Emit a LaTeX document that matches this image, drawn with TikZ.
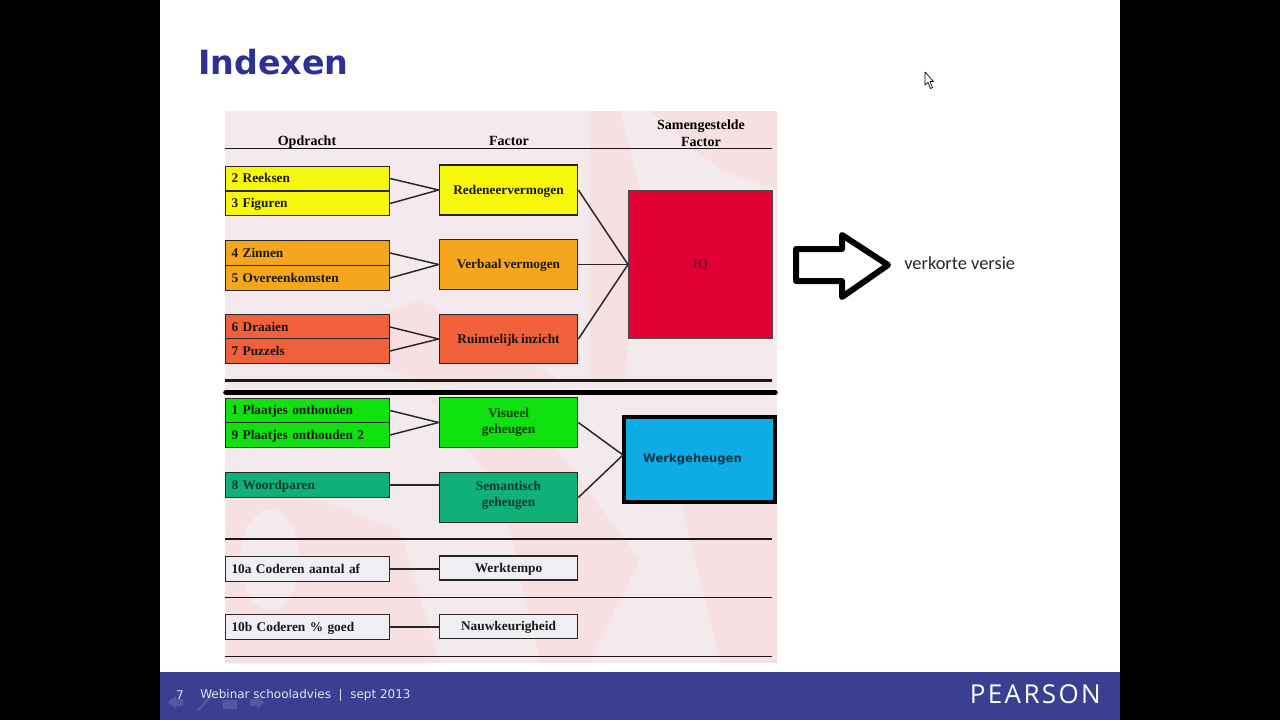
\documentclass[tikz,border=0pt]{standalone}
\usepackage{fontspec}
\setmainfont{Liberation Serif}
\newfontfamily\titlefont{DejaVu Sans}
\newfontfamily\notefont{Carlito}
\newfontfamily\brandfont[LetterSpace=9]{Open Sans}
\newcommand\boxfont{\fontsize{10}{12}\selectfont\bfseries\spaceskip 0.17em\relax}
\definecolor{panelbg}{RGB}{244,234,237}
\definecolor{panelmark}{RGB}{247,224,226}
\definecolor{barblue}{RGB}{58,63,145}
\definecolor{titleblue}{RGB}{46,49,146}
\definecolor{cyellow}{RGB}{247,247,12}
\definecolor{corange}{RGB}{245,166,28}
\definecolor{cred}{RGB}{240,96,58}
\definecolor{cgreen}{RGB}{16,226,16}
\definecolor{cteal}{RGB}{16,176,120}
\definecolor{cwhite}{RGB}{240,238,242}
\definecolor{ciq}{RGB}{224,0,52}
\definecolor{cwerk}{RGB}{14,172,228}
\tikzset{
  opdrbox/.style={draw=black!85,line width=0.8pt,anchor=west,minimum width=123pt,minimum height=18.4pt,
    inner xsep=4.5pt,inner ysep=0pt,text width=114pt,align=left,text height=7pt,text depth=0.4pt,
    font=\boxfont,text=black!90},
  factorbox/.style={draw=black!85,line width=0.8pt,minimum width=104pt,inner sep=0pt,align=center,
    font=\boxfont,text=black!90},
  oneline/.style={text height=7pt,text depth=0.4pt},
  headlabel/.style={inner sep=0pt,align=center,font=\fontsize{10.5}{12.6}\selectfont\bfseries},
  conn/.style={line width=1.1pt,draw=black!85},
  rule/.style={line width=1.4pt,draw=black!90}
}
\begin{document}
\begin{tikzpicture}[x=0.75pt,y=0.75pt,yscale=-1,xscale=1]
\useasboundingbox (0,0) rectangle (1280,720);
\fill [black] (0,0) rectangle (1280,720);
\fill [white] (160,0) rectangle (1120,672);
\fill [barblue] (160,672) rectangle (1120,720);
\fill [panelbg] (225,111) rectangle (777,663);
\begin{scope}
\clip (225,111) rectangle (777,663);
\fill [panelmark] (590,111) -- (620,111) -- (640,190) -- (625,380) -- (590,380) -- cycle;
\fill [panelmark] (650,111) -- (777,111) -- (777,190) -- (720,170) -- cycle;
\fill [panelmark] (300,340) -- (420,300) -- (560,380) -- (430,385) -- cycle;
\fill [panelmark] (225,500) .. controls (300,480) and (340,510) .. (400,530) -- (440,663) -- (225,663) -- cycle;
\fill [panelbg] (270,560) ellipse (30 and 50);
\fill [panelmark] (430,400) -- (520,400) -- (640,560) -- (590,663) -- (540,663) -- (500,490) -- cycle;
\fill [panelmark] (680,500) -- (777,500) -- (777,663) -- (720,663) -- cycle;
\fill [panelmark] (225,625) -- (420,640) -- (430,663) -- (225,663) -- cycle;
\end{scope}
\node [inner sep=0pt,anchor=west,text=titleblue,font=\titlefont\bfseries\fontsize{25}{28}\selectfont] (title) at (198,62) {Indexen};
\node [headlabel,oneline] (hopdracht) at (307,141) {Opdracht};
\node [headlabel,oneline] (hfactor) at (509,141) {Factor};
\node [headlabel,anchor=south] (hsamen) at (701,147) {Samengestelde\\Factor};
\coordinate (r0a) at (225,148.5);
\coordinate (r0b) at (772,148.5);
\draw [rule] (r0a) -- (r0b);
\node [opdrbox,fill=cyellow] (reeksen) at (225,178.5) {2 Reeksen};
\node [opdrbox,fill=cyellow] (figuren) at (225,203.5) {3 Figuren};
\node [opdrbox,fill=corange] (zinnen) at (225,253) {4 Zinnen};
\node [opdrbox,fill=corange] (overeen) at (225,278) {5 Overeenkomsten};
\node [opdrbox,fill=cred] (draaien) at (225,327) {6 Draaien};
\node [opdrbox,fill=cred] (puzzels) at (225,351) {7 Puzzels};
\node [opdrbox,fill=cgreen] (plaatjesa) at (225,410.5) {1 Plaatjes onthouden};
\node [opdrbox,fill=cgreen] (plaatjesb) at (225,435) {9 Plaatjes onthouden 2};
\node [opdrbox,fill=cteal,text=black!65!cteal] (woord) at (225,485) {8 Woordparen};
\node [opdrbox,fill=cwhite] (codera) at (225,569) {10a Coderen aantal af};
\node [opdrbox,fill=cwhite] (coderb) at (225,627) {10b Coderen \% goed};
\node [factorbox,oneline,fill=cyellow,minimum height=37.5pt] (reden) at (508.5,190) {Redeneervermogen};
\node [factorbox,oneline,fill=corange,minimum height=37.5pt] (verbaal) at (508.5,264.5) {Verbaal vermogen};
\node [factorbox,oneline,fill=cred,minimum height=36.5pt] (ruimte) at (508.5,339) {Ruimtelijk inzicht};
\node [factorbox,fill=cgreen,minimum height=37pt,text=black!75!cgreen] (visueel) at (508.5,422.5) {Visueel\\geheugen};
\node [factorbox,fill=cteal,minimum height=37pt,text=black!65!cteal,text depth=5pt] (seman) at (508.5,497.5) {Semantisch\\geheugen};
\node [factorbox,oneline,fill=cwhite,minimum height=18pt] (tempo) at (508.5,568) {Werktempo};
\node [factorbox,oneline,fill=cwhite,minimum height=18.5pt] (nauw) at (508.5,626.5) {Nauwkeurigheid};
\node [draw=black!70,fill=ciq,line width=0.8pt,minimum width=108pt,minimum height=111.5pt,inner sep=0pt,oneline,text=black!45!ciq,font=\boxfont] (iq) at (700.5,264.5) {IQ};
\node [draw=black,fill=cwerk,line width=2.8pt,minimum width=113pt,minimum height=63.5pt,inner sep=0pt,text depth=2pt,text=black!70!cwerk,font=\titlefont\bfseries\fontsize{8.7}{12}\selectfont] (werk) at (699.5,459.5) {\hspace*{-10.5pt}Werkgeheugen};
\coordinate (werkin) at (623,455);
\foreach \a/\b in {reeksen/reden,figuren/reden,zinnen/verbaal,overeen/verbaal,draaien/ruimte,puzzels/ruimte,plaatjesa/visueel,plaatjesb/visueel}
  \draw [conn] (\a.east) -- (\b.west);
\foreach \a/\b in {woord/seman,codera/tempo,coderb/nauw}
  \draw [conn] (\a.east) -- (\a.east -| \b.west);
\foreach \a in {reden,verbaal,ruimte}
  \draw [conn] (\a.east) -- (iq.west);
\foreach \a in {visueel,seman}
  \draw [conn] (\a.east) -- (werkin);
\foreach \y/\w in {380.5/1.8pt,539/1.4pt,597.5/1.4pt,656.5/1.4pt}
  \draw [line width=\w,draw=black!90] (225,\y) -- (772,\y);
\draw [line width=4.2pt,line cap=round] (226,392.5) -- (775,392.5);
\draw [line width=4.5pt,line join=round,fill=white] (796,249) -- (842,249) -- (842,235) -- (888,265) -- (842,297) -- (842,281) -- (796,281) -- cycle;
\node [inner sep=0pt,anchor=west,text=black!85,font=\notefont\fontsize{13.8}{16}\selectfont] (verkort) at (904,263) {verkorte versie};
\draw [line width=0.5pt,fill=white,line join=round] (925,72) -- (925,85) -- (928,82.5) -- (930.5,88.5) -- (932.5,87.5) -- (930,81.5) -- (933.5,81.5) -- cycle;
\fill [barblue!70!white,opacity=0.45] (168,702) -- (176,696) -- (176,699) -- (183,699) -- (183,706) -- (176,706) -- (176,709) -- cycle;
\fill [barblue!70!white,opacity=0.45] (197,710) -- (211,694) -- (213,696) -- (200,710) -- cycle;
\fill [barblue!70!white,opacity=0.45] (223,700) rectangle (237,709);
\fill [barblue!70!white,opacity=0.45] (264,702) -- (257,696) -- (257,699) -- (250,699) -- (250,706) -- (257,706) -- (257,709) -- cycle;
\node [inner sep=0pt,text=white!85!barblue,font=\titlefont\fontsize{9}{11}\selectfont] (pagenr) at (180,695.5) {7};
\node [inner sep=0pt,anchor=west,text=white!85!barblue,font=\titlefont\fontsize{9}{11}\selectfont] (footer) at (200,695.5) {Webinar schooladvies\ \ |\ \ sept 2013};
\node [inner sep=0pt,anchor=east,text=white,font=\brandfont\fontsize{19.5}{22}\selectfont] (brand) at (1101,694) {PEARSON};
\end{tikzpicture}
\end{document}
